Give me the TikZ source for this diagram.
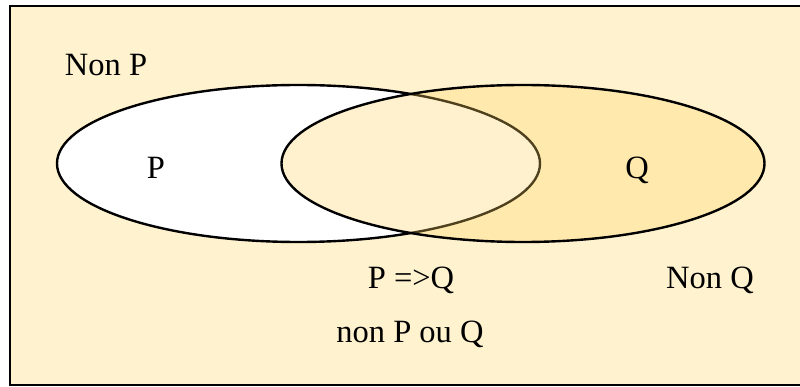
\documentclass[tikz,border=0pt]{standalone}
\usepackage{fontspec}
\setmainfont{Liberation Serif}
\usetikzlibrary{shapes.geometric}
\definecolor{bgcol}{RGB}{255,242,206}
\definecolor{qcol}{RGB}{255,213,100}
\tikzset{
  setel/.style={ellipse, draw=black, line width=2.4pt, inner sep=0pt,
    minimum width=483pt, minimum height=157pt},
  lbl/.style={anchor=base, inner sep=0pt, font=\fontsize{32.5}{38}\selectfont}
}
\begin{document}
\begin{tikzpicture}[x=1pt,y=-1pt]
\useasboundingbox (0,0) rectangle (800,387);
\draw[fill=bgcol, line width=2pt] (10,6) rectangle (803,385);
\node[setel, fill=white] (P) at (298.5,163.5) {};
\node[setel, fill=qcol, fill opacity=0.31, draw opacity=1] (Q) at (523,163.5) {};
\node[lbl] (nonP) at (106,76) {Non P};
\node[lbl] (lP) at (156,179) {P};
\node[lbl] (lQ) at (637,179) {Q};
\node[lbl] (impl) at (411,288) {P =>Q};
\node[lbl] (nonQ) at (710,288) {Non Q};
\node[lbl] (ou) at (410,342) {non P ou Q};
\end{tikzpicture}
\end{document}
